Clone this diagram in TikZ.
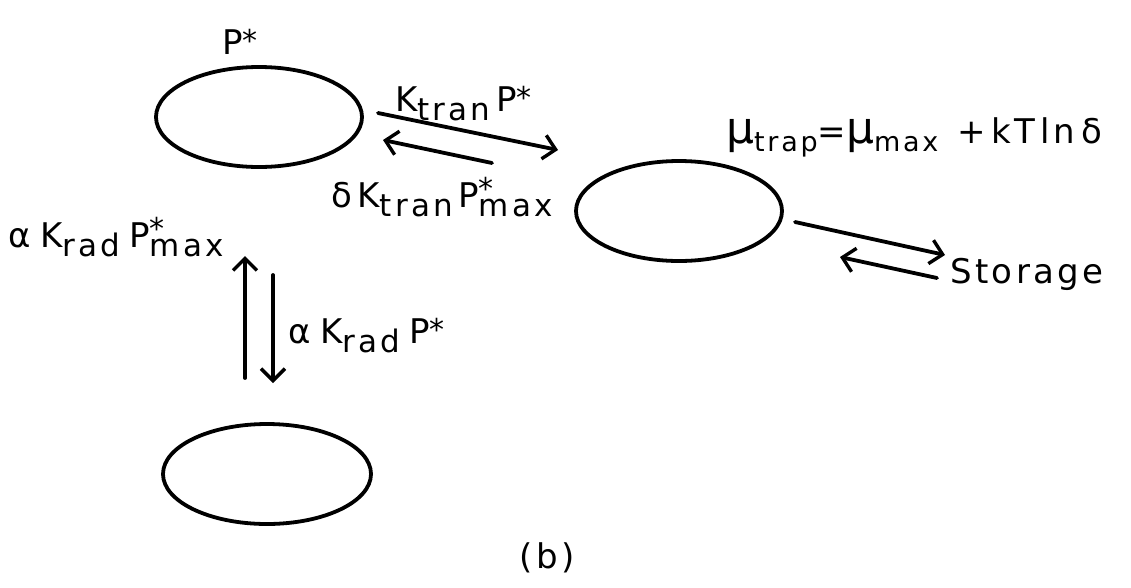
\documentclass[tikz,border=0pt]{standalone}
\usepackage{fontspec}
\setmainfont[LetterSpace=10]{DejaVu Sans}
\usetikzlibrary{shapes.geometric,arrows.meta}

% hand-lettered subscript and starred quantities
\newcommand\lsub[1]{\raisebox{-9pt}{\fontsize{31}{34}\selectfont #1}}
\newcommand\msub[1]{\raisebox{-8pt}{\fontsize{27}{30}\selectfont #1}}
\newcommand\lstar[1]{\raisebox{#1}{\fontsize{30}{32}\selectfont *}}
\newcommand\pstar{P\lstar{3pt}}
\newcommand\pstarmax{P\rlap{\lstar{8pt}}\lsub{max}}
\newcommand\bigmu{{\fontsize{44}{48}\selectfont μ}}

\tikzset{
  state/.style={draw, ellipse, line width=3.8pt, minimum width=206pt, minimum height=100pt, inner sep=0pt},
  flow/.style={line width=3.8pt, line cap=round, -{Straight Barb[length=12pt,width=24pt,line width=3.4pt]}},
  lbl/.style={anchor=base west, inner sep=0pt, font=\fontsize{34}{40}\selectfont}
}

\begin{document}
\begin{tikzpicture}[x=1pt,y=-1pt]
\useasboundingbox (0,0) rectangle (1131,587);

% states
\node[state] (top) at (259,117) {};
\node[state] (trap) at (679,211) {};
\node[state, minimum width=208pt] (low) at (267,474) {};

% arrow end points
\coordinate (ta) at (378,113);
\coordinate (tb) at (558,150);
\coordinate (tc) at (492,163);
\coordinate (td) at (383,140);
\coordinate (sa) at (795,222);
\coordinate (sb) at (945,255);
\coordinate (sc) at (937,278);
\coordinate (sd) at (840,257);
\coordinate (ua) at (245,378);
\coordinate (ub) at (245,256);
\coordinate (da) at (273,275);
\coordinate (db) at (273,383);

\draw[flow] (ta) -- (tb);
\draw[flow] (tc) -- (td);
\draw[flow] (sa) -- (sb);
\draw[flow] (sc) -- (sd);
\draw[flow] (ua) -- (ub);
\draw[flow] (da) -- (db);

% labels
\node[lbl] (lp) at (222,54) {\pstar};
\node[lbl] (lk) at (395,111) {K\lsub{tran}\,\pstar};
\node[lbl] (ld) at (331,207) {δ\,K\lsub{tran}\,\pstarmax};
\node[lbl] (lm) at (726,143) {\bigmu\msub{trap}=\bigmu\msub{max}\;\;+\,kT\,ln\,δ};
\node[lbl] (ls) at (950,283) {Storage};
\node[lbl] (lu) at (8,247) {α\;K\lsub{rad}\;\pstarmax};
\node[lbl] (lv) at (288,343) {α\;K\lsub{rad}\;\pstar};
\node[lbl, anchor=center] (lb) at (547,558) {(b)};
\end{tikzpicture}
\end{document}
